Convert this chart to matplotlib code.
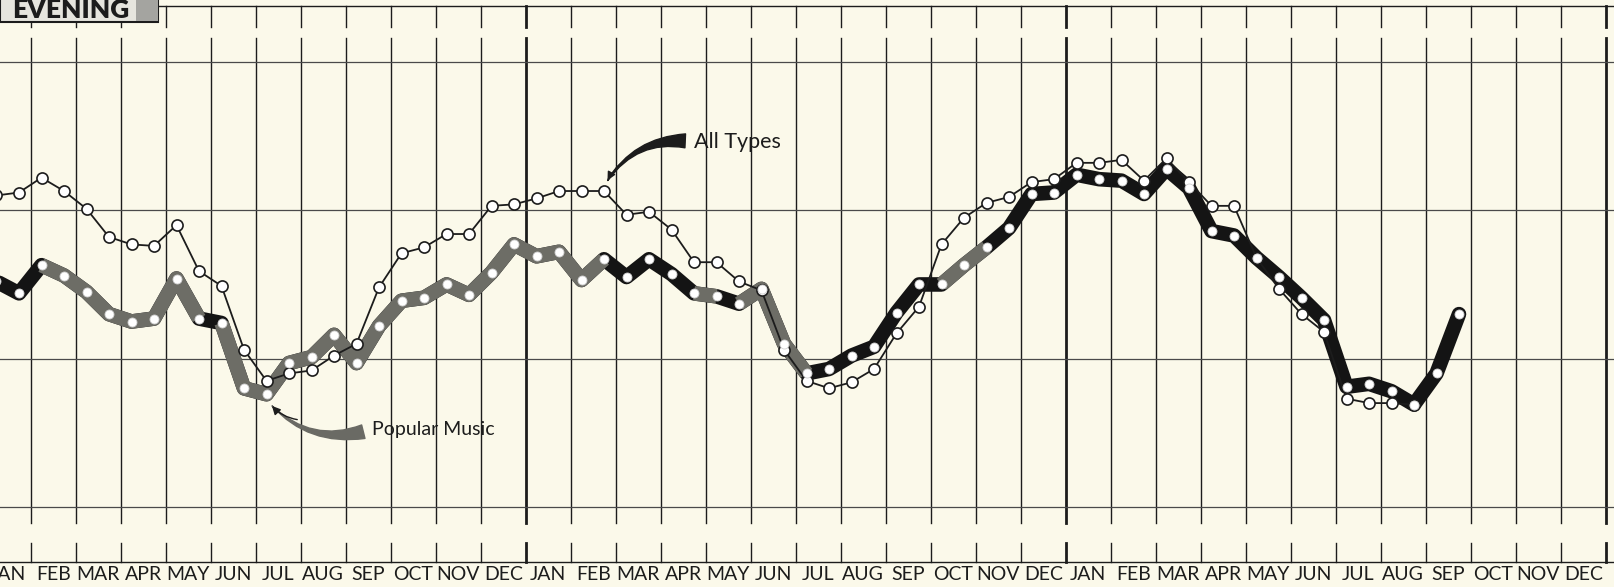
import matplotlib.pyplot as plt
import numpy as np
from matplotlib.patches import Rectangle

plt.rcParams['font.family'] = ['Lato', 'DejaVu Sans']

months = ['JAN', 'FEB', 'MAR', 'APR', 'MAY', 'JUN',
          'JUL', 'AUG', 'SEP', 'OCT', 'NOV', 'DEC'] * 3

# half-month readings, starting with the first half of JAN (year 1)
all_types = [31.0, 31.2, 32.2, 31.3, 30.1, 28.2, 27.7, 27.6, 29.0, 25.9, 24.9, 20.6,
             18.5, 19.0, 19.2, 20.2, 21.0, 24.8, 27.1, 27.5, 28.4, 28.4, 30.3, 30.4,
             30.8, 31.3, 31.3, 31.3, 29.7, 29.9, 28.7, 26.5, 26.5, 25.2, 24.6, 20.6,
             18.5, 18.0, 18.4, 19.3, 21.7, 23.5, 27.7, 29.5, 30.5, 30.9, 31.9, 32.1,
             33.2, 33.2, 33.4, 32.0, 33.5, 31.9, 30.3, 30.3, 26.8, 24.7, 23.0, 21.8,
             17.3, 17.0, 17.0, 16.9]
popular = [25.2, 24.4, 26.3, 25.6, 24.5, 23.0, 22.5, 22.7, 25.4, 22.7, 22.4, 18.0,
           17.6, 19.7, 20.1, 21.6, 19.7, 22.2, 23.9, 24.1, 25.0, 24.3, 25.8, 27.7,
           26.9, 27.2, 25.3, 26.7, 25.5, 26.7, 25.7, 24.4, 24.2, 23.7, 24.7, 21.0,
           19.0, 19.3, 20.2, 20.8, 23.1, 25.0, 25.0, 26.3, 27.5, 28.8, 31.1, 31.2,
           32.4, 32.1, 32.0, 31.1, 32.8, 31.5, 28.6, 28.3, 26.8, 25.5, 24.1, 22.6,
           18.1, 18.3, 17.8, 16.9, 19.0, 23.0]

# stretches where the printed band came out grey instead of black
gray_runs = [(2, 9), (10, 27), (31, 32), (33, 36), (42, 44)]

INK = '#1c1c1c'
PAPER = '#fbf9ea'

# scan pixels -> data units (month grid lines every 45 px, value lines every 148 px)
GX, DX = 30.7, 45.0
GY, DY = 62.0, 14.83


def fx(px):
    return 1 + (px - GX) / DX


def fy(py):
    return 40 - (py - GY) / DY


fig = plt.figure(figsize=(16.15, 5.87), dpi=100, facecolor=PAPER)
ax = fig.add_axes([0, 0, 1, 1])
ax.set_facecolor(PAPER)
ax.set_xlim(fx(0), fx(1615))
ax.set_ylim(fy(587), fy(0))
ax.axis('off')

# ruled grid
for i in range(1, 37):
    lw = 2.0 if i % 12 == 0 else 1.0
    ax.plot([i, i], [fy(38), fy(523)], color=INK, lw=lw, zorder=1)
    ax.plot([i, i], [fy(6), fy(27)], color=INK, lw=lw, zorder=1)
    ax.plot([i, i], [fy(543), fy(562)], color=INK, lw=lw, zorder=1)
for v in (10, 20, 30, 40):
    ax.axhline(v, color='#4a4a4a', lw=0.9, zorder=1)
ax.plot([fx(155), fx(1615)], [fy(6), fy(6)], color=INK, lw=1.0, zorder=1)
ax.axhline(fy(562), color=INK, lw=1.0, zorder=1)

for i, m in enumerate(months):
    ax.text(i + 0.5, fy(574), m, ha='center', va='center', fontsize=14, color=INK)

# series
t_all = np.arange(len(all_types)) / 2 + 0.24
t_pop = np.arange(len(popular)) / 2 + 0.24
pop = np.array(popular)

ax.plot(t_pop, pop, color='#141414', lw=10.5, solid_joinstyle='round',
        solid_capstyle='round', zorder=3)
for a, b in gray_runs:
    ax.plot(t_pop[a:b + 1], pop[a:b + 1], color='#6d6d66', lw=10.5,
            solid_joinstyle='round', solid_capstyle='butt', zorder=3.1)
ax.plot(t_all, all_types, color=INK, lw=1.3, marker='o', ms=8,
        mfc='white', mec=INK, mew=1.2, zorder=4)
ax.plot(t_pop, pop, ls='none', marker='o', ms=6.5, mfc='white',
        mec='#cfcfcf', mew=0.6, zorder=5)

# labels with swoosh arrows
k = 27
tip = (t_all[k] + 0.05, all_types[k] + 0.55)
ax.annotate('', xy=tip, xytext=(fx(688), fy(141)),
            arrowprops=dict(arrowstyle='wedge,tail_width=1.0,shrink_factor=0.35',
                            color=INK, connectionstyle='arc3,rad=0.3'), zorder=6)
ax.annotate('', xy=tip, xytext=(fx(640), fy(152)),
            arrowprops=dict(arrowstyle='-|>,head_length=0.5,head_width=0.25',
                            color=INK, lw=1.0, connectionstyle='arc3,rad=0.2'), zorder=6)
ax.text(fx(694), fy(142), 'All Types', fontsize=15.5, ha='left', va='center', color=INK)

k = 12
tip = (t_pop[k] + 0.08, pop[k] - 0.65)
ax.annotate('', xy=tip, xytext=(fx(366), fy(431)),
            arrowprops=dict(arrowstyle='wedge,tail_width=1.0,shrink_factor=0.35',
                            color='#6a6a64', connectionstyle='arc3,rad=-0.3'), zorder=6)
ax.annotate('', xy=tip, xytext=(fx(300), fy(420)),
            arrowprops=dict(arrowstyle='-|>,head_length=0.5,head_width=0.25',
                            color=INK, lw=1.0, connectionstyle='arc3,rad=-0.2'), zorder=6)
ax.text(fx(372), fy(430), 'Popular Music', fontsize=14, ha='left', va='center', color=INK)

# EVENING tab
ax.add_patch(Rectangle((fx(0), fy(22)), fx(158) - fx(0), fy(-4) - fy(22),
                       facecolor='#e6e5de', edgecolor=INK, lw=1.5, zorder=6))
ax.add_patch(Rectangle((fx(136), fy(21)), fx(158) - fx(136), fy(-4) - fy(21),
                       facecolor='#a4a4a0', edgecolor='none', zorder=6))
ax.text(fx(12), fy(18), 'EVENING', fontsize=19, fontweight='heavy', color=INK,
        va='baseline', ha='left', zorder=7)

fig.savefig('out.png', dpi=100, facecolor=PAPER)
